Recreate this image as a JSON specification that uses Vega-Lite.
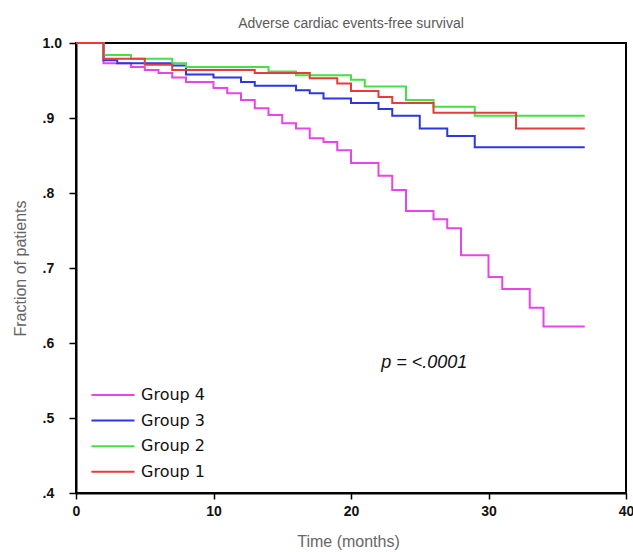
{
  "$schema": "https://vega.github.io/schema/vega-lite/v6.json",
  "width": 550,
  "height": 450,
  "autosize": {"type": "none"},
  "padding": {"left": 76, "top": 43, "right": 7, "bottom": 59},
  "background": "white",
  "config": {
    "view": {"stroke": "black", "strokeWidth": 2},
    "axis": {"grid": false, "domainColor": "black", "domainWidth": 2, "tickColor": "black", "tickWidth": 1.5,
      "labelFont": "Liberation Sans", "labelFontWeight": "bold", "labelFontSize": 14, "labelColor": "#111",
      "titleFont": "Liberation Sans", "titleFontSize": 16, "titleFontWeight": "normal", "titleColor": "#666666"}
  },
  "title": {"text": "Adverse cardiac events-free survival", "frame": "group", "anchor": "middle", "baseline": "middle", "offset": -2,
    "font": "Liberation Sans", "fontSize": 14, "fontWeight": "normal", "color": "#5a5a5a"},
  "datasets": {
    "km": [
      {"group": "Group 4", "month": 0, "surv": 1.0},
      {"group": "Group 4", "month": 2, "surv": 0.973},
      {"group": "Group 4", "month": 4, "surv": 0.968},
      {"group": "Group 4", "month": 5, "surv": 0.964},
      {"group": "Group 4", "month": 6, "surv": 0.960},
      {"group": "Group 4", "month": 7, "surv": 0.954},
      {"group": "Group 4", "month": 8, "surv": 0.948},
      {"group": "Group 4", "month": 10, "surv": 0.940},
      {"group": "Group 4", "month": 11, "surv": 0.933},
      {"group": "Group 4", "month": 12, "surv": 0.924},
      {"group": "Group 4", "month": 13, "surv": 0.913},
      {"group": "Group 4", "month": 14, "surv": 0.904},
      {"group": "Group 4", "month": 15, "surv": 0.893},
      {"group": "Group 4", "month": 16, "surv": 0.886},
      {"group": "Group 4", "month": 17, "surv": 0.873},
      {"group": "Group 4", "month": 18, "surv": 0.868},
      {"group": "Group 4", "month": 19, "surv": 0.857},
      {"group": "Group 4", "month": 20, "surv": 0.840},
      {"group": "Group 4", "month": 22, "surv": 0.823},
      {"group": "Group 4", "month": 23, "surv": 0.804},
      {"group": "Group 4", "month": 24, "surv": 0.776},
      {"group": "Group 4", "month": 26, "surv": 0.765},
      {"group": "Group 4", "month": 27, "surv": 0.753},
      {"group": "Group 4", "month": 28, "surv": 0.717},
      {"group": "Group 4", "month": 30, "surv": 0.688},
      {"group": "Group 4", "month": 31, "surv": 0.672},
      {"group": "Group 4", "month": 33, "surv": 0.647},
      {"group": "Group 4", "month": 34, "surv": 0.622},
      {"group": "Group 4", "month": 37, "surv": 0.622},
      {"group": "Group 3", "month": 0, "surv": 1.0},
      {"group": "Group 3", "month": 2, "surv": 0.977},
      {"group": "Group 3", "month": 3, "surv": 0.973},
      {"group": "Group 3", "month": 7, "surv": 0.970},
      {"group": "Group 3", "month": 8, "surv": 0.958},
      {"group": "Group 3", "month": 10, "surv": 0.954},
      {"group": "Group 3", "month": 12, "surv": 0.948},
      {"group": "Group 3", "month": 13, "surv": 0.943},
      {"group": "Group 3", "month": 16, "surv": 0.937},
      {"group": "Group 3", "month": 17, "surv": 0.933},
      {"group": "Group 3", "month": 18, "surv": 0.926},
      {"group": "Group 3", "month": 20, "surv": 0.920},
      {"group": "Group 3", "month": 22, "surv": 0.912},
      {"group": "Group 3", "month": 23, "surv": 0.903},
      {"group": "Group 3", "month": 25, "surv": 0.886},
      {"group": "Group 3", "month": 27, "surv": 0.876},
      {"group": "Group 3", "month": 29, "surv": 0.861},
      {"group": "Group 3", "month": 37, "surv": 0.861},
      {"group": "Group 2", "month": 0, "surv": 1.0},
      {"group": "Group 2", "month": 2, "surv": 0.984},
      {"group": "Group 2", "month": 4, "surv": 0.979},
      {"group": "Group 2", "month": 7, "surv": 0.973},
      {"group": "Group 2", "month": 8, "surv": 0.968},
      {"group": "Group 2", "month": 14, "surv": 0.962},
      {"group": "Group 2", "month": 16, "surv": 0.957},
      {"group": "Group 2", "month": 20, "surv": 0.951},
      {"group": "Group 2", "month": 21, "surv": 0.942},
      {"group": "Group 2", "month": 24, "surv": 0.924},
      {"group": "Group 2", "month": 26, "surv": 0.915},
      {"group": "Group 2", "month": 29, "surv": 0.903},
      {"group": "Group 2", "month": 37, "surv": 0.903},
      {"group": "Group 1", "month": 0, "surv": 1.0},
      {"group": "Group 1", "month": 2, "surv": 0.979},
      {"group": "Group 1", "month": 5, "surv": 0.971},
      {"group": "Group 1", "month": 7, "surv": 0.964},
      {"group": "Group 1", "month": 13, "surv": 0.960},
      {"group": "Group 1", "month": 17, "surv": 0.953},
      {"group": "Group 1", "month": 19, "surv": 0.946},
      {"group": "Group 1", "month": 20, "surv": 0.936},
      {"group": "Group 1", "month": 22, "surv": 0.928},
      {"group": "Group 1", "month": 23, "surv": 0.920},
      {"group": "Group 1", "month": 26, "surv": 0.907},
      {"group": "Group 1", "month": 32, "surv": 0.886},
      {"group": "Group 1", "month": 37, "surv": 0.886}
    ],
    "note": [
      {"label": "p = <.0001"}
    ]
  },
  "layer": [
    {
      "data": {"name": "km"},
      "mark": {"type": "line", "interpolate": "step-after", "strokeWidth": 2},
      "encoding": {
        "x": {"field": "month", "type": "quantitative",
          "scale": {"domain": [0, 40], "nice": false, "zero": false},
          "axis": {"values": [0, 10, 20, 30, 40], "title": "Time (months)", "tickSize": 6, "labelPadding": 5,
            "labelFlush": false, "titleY": 48, "titleBaseline": "middle", "titleX": 272}},
        "y": {"field": "surv", "type": "quantitative",
          "scale": {"domain": [0.4, 1.0], "nice": false, "zero": false},
          "axis": {"values": [0.4, 0.5, 0.6, 0.7, 0.8, 0.9, 1.0], "title": "Fraction of patients", "tickSize": 7,
            "labelAlign": "left", "labelPadding": 27, "labelFlush": false,
            "labelExpr": "datum.value >= 0.999 ? '1.0' : replace(format(datum.value, '.1f'), '0.', '.')",
            "titleX": -56, "titleY": 225, "titleAngle": -90, "titleBaseline": "middle", "titleAlign": "center"}},
        "color": {"field": "group", "type": "nominal",
          "scale": {"domain": ["Group 4", "Group 3", "Group 2", "Group 1"],
            "range": ["#e845e8", "#2b38e0", "#46e046", "#e63c3c"]},
          "legend": {"orient": "none", "legendX": 15, "legendY": 344, "title": null,
            "symbolType": "M-4,0H4", "symbolSize": 116, "symbolStrokeWidth": 2, "symbolOffset": 14,
            "labelOffset": 20, "labelFont": "DejaVu Sans", "labelFontSize": 16, "labelColor": "#111",
            "rowPadding": 9.6, "padding": 0}}
      }
    },
    {
      "data": {"name": "note"},
      "mark": {"type": "text", "align": "left", "baseline": "middle",
        "font": "Liberation Sans", "fontStyle": "italic", "fontSize": 18, "color": "#111"},
      "encoding": {
        "text": {"field": "label", "type": "nominal"},
        "x": {"datum": 22.2, "type": "quantitative"},
        "y": {"datum": 0.573, "type": "quantitative"}
      }
    }
  ]
}
